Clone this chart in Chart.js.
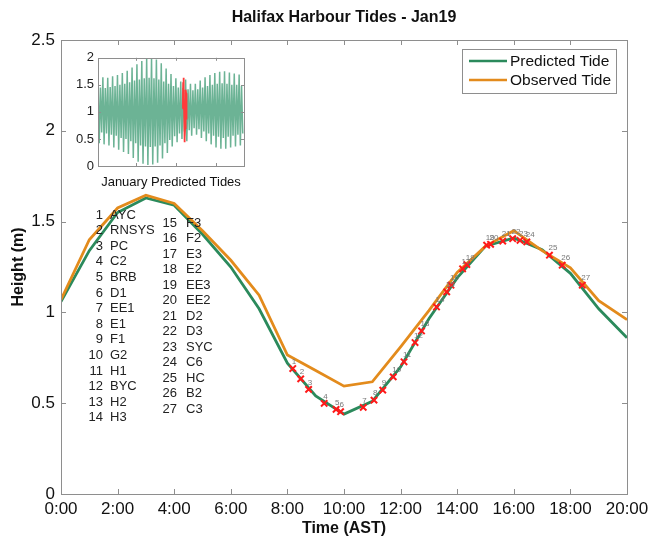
<!DOCTYPE html>
<html><head><meta charset="utf-8">
<script src="https://cdn.jsdelivr.net/npm/chart.js@4.4.1/dist/chart.umd.min.js"></script>
<style>
html,body{margin:0;padding:0;background:#fff;}
#wrap{position:relative;width:655px;height:548px;overflow:hidden;}
#main{position:absolute;left:0;top:0;}
#inset{position:absolute;left:60px;top:46px;}
</style></head><body>
<div id="wrap"><canvas id="main" width="655" height="548"></canvas><canvas id="inset" width="200" height="150"></canvas></div>
<script>
// ---------- data ----------
const hours = [0,1,2,3,4,5,6,7,8,9,10,11,12,13,14,15,16,17,18,19,20];
const predicted = [1.06,1.34,1.55,1.63,1.59,1.43,1.25,1.02,0.72,0.54,0.44,0.51,0.70,0.965,1.19,1.365,1.41,1.345,1.215,1.02,0.86];
const observed  = [1.07,1.40,1.575,1.645,1.60,1.45,1.287,1.095,0.765,0.68,0.594,0.618,0.81,1.01,1.22,1.365,1.45,1.34,1.245,1.065,0.96];
const xTickValues = [0,2,4,6,8,10,12,14,16,18,20];
const xTickLabels = ['0:00','2:00','4:00','6:00','8:00','10:00','12:00','14:00','16:00','18:00','20:00'];
const yTickValues = [0,0.5,1,1.5,2,2.5];
const yTickLabels = ['0','0.5','1','1.5','2','2.5'];
const stationNames = ['AYC','RNSYS','PC','C2','BRB','D1','EE1','E1','F1','G2','H1','BYC','H2','H3',
  'F3','F2','E3','E2','EE3','EE2','D2','D3','SYC','C6','HC','B2','C3'];
const stationTimes = [8.19,8.47,8.75,9.30,9.72,9.88,10.68,11.06,11.37,11.74,12.12,12.51,12.74,
  13.27,13.63,13.78,14.19,14.34,15.04,15.18,15.61,15.96,16.22,16.46,17.26,17.71,18.42];
const stationHeights = [0.691,0.634,0.576,0.499,0.466,0.453,0.477,0.517,0.572,0.645,0.728,0.834,0.898,
  1.03,1.113,1.15,1.24,1.263,1.37,1.375,1.393,1.406,1.397,1.388,1.315,1.26,1.15];
// inset: January predicted tide extremes (one high and one low per tidal cycle)
const insetHigh = [1.62,1.45,1.64,1.44,1.63,1.46,1.66,1.48,1.68,1.50,1.72,1.52,1.76,1.55,1.82,1.58,1.88,1.60,1.94,1.62,
  1.98,1.63,1.99,1.62,1.97,1.60,1.90,1.56,1.80,1.52,1.70,1.48,1.62,1.45,1.56,1.44,1.60,1.42,1.52,1.40,
  1.52,1.42,1.58,1.45,1.64,1.48,1.68,1.50,1.72,1.52,1.74,1.53,1.75,1.52,1.73,1.50,1.71,1.50,1.69,1.48];
const insetLow = [0.42,0.62,0.40,0.60,0.38,0.58,0.34,0.56,0.30,0.52,0.26,0.50,0.22,0.46,0.15,0.42,0.08,0.38,0.04,0.36,
  0.02,0.35,0.03,0.36,0.06,0.38,0.14,0.42,0.24,0.48,0.36,0.55,0.44,0.60,0.50,0.64,0.46,0.66,0.56,0.70,
  0.58,0.68,0.52,0.64,0.46,0.60,0.40,0.56,0.34,0.54,0.32,0.52,0.32,0.54,0.34,0.56,0.36,0.58,0.38,0.60];
const insetDays = 31;
const insetStartDay = 1;
const obsDay = 19;
const insetXTicks = [9.1,17.6,26.1];
const insetYTickValues = [0,0.5,1,1.5,2];
const insetYTickLabels = ['0','0.5','1','1.5','2'];

// ---------- styles ----------
const FONT = '"Liberation Sans", Arial, Helvetica, sans-serif';
const GREEN = '#2b8a5c';
const ORANGE = '#e38b1c';
const BOX = '#8e8e8e';

function boxAndTicks(chart, xs, ys, len){
  const ctx = chart.ctx, a = chart.chartArea;
  const sx = chart.scales.x, sy = chart.scales.y;
  ctx.save();
  ctx.strokeStyle = BOX; ctx.lineWidth = 1;
  ctx.strokeRect(Math.round(a.left)+0.5, Math.round(a.top)+0.5, Math.round(a.right-a.left), Math.round(a.bottom-a.top));
  ctx.beginPath();
  xs.forEach(v=>{
    const px = Math.round(sx.getPixelForValue(v))+0.5;
    ctx.moveTo(px,a.bottom); ctx.lineTo(px,a.bottom-len);
    ctx.moveTo(px,a.top); ctx.lineTo(px,a.top+len);
  });
  ys.forEach(v=>{
    const py = Math.round(sy.getPixelForValue(v))+0.5;
    ctx.moveTo(a.left,py); ctx.lineTo(a.left+len,py);
    ctx.moveTo(a.right,py); ctx.lineTo(a.right-len,py);
  });
  ctx.stroke();
  ctx.restore();
}

const mainDecor = {
  id:'mainDecor',
  afterDraw(chart){
    const ctx = chart.ctx, a = chart.chartArea;
    boxAndTicks(chart, xTickValues, yTickValues, 5);
    ctx.save();
    ctx.fillStyle = '#111';
    ctx.textAlign = 'center'; ctx.textBaseline = 'middle';
    ctx.font = 'bold 16px ' + FONT;
    ctx.fillText('Halifax Harbour Tides - Jan19', (a.left+a.right)/2, 18);
    ctx.fillText('Time (AST)', (a.left+a.right)/2, 529);
    ctx.save();
    ctx.translate(19, (a.top+a.bottom)/2);
    ctx.rotate(-Math.PI/2);
    ctx.fillText('Height (m)', 0, 0);
    ctx.restore();
    // station list
    ctx.font = '13px ' + FONT;
    ctx.fillStyle = '#222';
    stationNames.forEach((n,i)=>{
      let y, xn, xs;
      if(i<14){ y = 215 + i*15.6; xn = 103; xs = 110; }
      else { y = 223.3 + (i-14)*15.5; xn = 177; xs = 186; }
      ctx.textAlign = 'right'; ctx.fillText(String(i+1), xn, y);
      ctx.textAlign = 'left'; ctx.fillText(n, xs, y);
    });
    // marker number labels
    const meta = chart.getDatasetMeta(2);
    ctx.font = '8px ' + FONT;
    ctx.fillStyle = '#777';
    ctx.textAlign = 'left'; ctx.textBaseline = 'bottom';
    meta.data.forEach((pt,i)=>{
      ctx.fillText(String(i+1), pt.x-1, pt.y-3);
    });
    // legend
    const lx = 462.5, ly = 49.5, lw = 154, lh = 44;
    ctx.fillStyle = '#fff';
    ctx.fillRect(lx,ly,lw,lh);
    ctx.strokeStyle = BOX; ctx.lineWidth = 1;
    ctx.strokeRect(lx,ly,lw,lh);
    const rows = [[chart.data.datasets[0], 61],[chart.data.datasets[1], 80]];
    ctx.font = '15.5px ' + FONT; ctx.textBaseline = 'middle'; ctx.fillStyle = '#111';
    rows.forEach(([ds,y])=>{
      ctx.strokeStyle = ds.borderColor; ctx.lineWidth = 2.5;
      ctx.beginPath(); ctx.moveTo(469,y); ctx.lineTo(507,y); ctx.stroke();
      ctx.fillText(ds.label, 510, y+1);
    });
    ctx.restore();
  }
};

new Chart(document.getElementById('main'), {
  type:'line',
  data:{
    datasets:[
      {label:'Predicted Tide', data:hours.map((h,i)=>({x:h,y:predicted[i]})), borderColor:GREEN, borderWidth:2.8, pointRadius:0, tension:0, order:2},
      {label:'Observed Tide', data:hours.map((h,i)=>({x:h,y:observed[i]})), borderColor:ORANGE, borderWidth:2.8, pointRadius:0, tension:0, order:1},
      {label:'Stations', data:stationTimes.map((t,i)=>({x:t,y:stationHeights[i]})), showLine:false, pointStyle:'crossRot',
       pointRadius:4.5, pointBorderWidth:2, borderColor:'#ff1a1a', backgroundColor:'#ff1a1a', order:0}
    ]
  },
  options:{
    responsive:false, animation:false, devicePixelRatio:1,
    layout:{padding:{left:0,right:28,top:40,bottom:0}},
    plugins:{legend:{display:false}, title:{display:false}, tooltip:{enabled:false}},
    scales:{
      x:{type:'linear', min:0, max:20,
        afterBuildTicks:s=>{ s.ticks = xTickValues.map(v=>({value:v})); },
        ticks:{callback:(v)=>xTickLabels[xTickValues.indexOf(v)], font:{size:17,family:FONT}, color:'#111', padding:5, maxRotation:0, autoSkip:false},
        grid:{display:false, drawTicks:false}, border:{display:false},
        afterFit:s=>{ s.height = 54; }
      },
      y:{min:0, max:2.5,
        afterBuildTicks:s=>{ s.ticks = yTickValues.map(v=>({value:v})); },
        ticks:{callback:(v)=>yTickLabels[yTickValues.indexOf(v)], font:{size:17,family:FONT}, color:'#111', padding:6},
        grid:{display:false, drawTicks:false}, border:{display:false},
        afterFit:s=>{ s.width = 61; }
      }
    }
  },
  plugins:[mainDecor]
});

// ---------- inset ----------
const insetPts = [];
insetHigh.forEach((h,i)=>{
  const step = insetDays/insetHigh.length;
  insetPts.push({x:insetStartDay + i*step, y:h});
  insetPts.push({x:insetStartDay + (i+0.5)*step, y:insetLow[i]});
});
const insetDecor = {
  id:'insetDecor',
  afterDraw(chart){
    boxAndTicks(chart, insetXTicks, insetYTickValues, 3);
    const ctx = chart.ctx, a = chart.chartArea;
    ctx.save();
    ctx.font = '13px ' + FONT; ctx.fillStyle = '#111';
    ctx.textAlign = 'center'; ctx.textBaseline = 'middle';
    ctx.fillText('January Predicted Tides', (a.left+a.right)/2, 136);
    ctx.restore();
  }
};
new Chart(document.getElementById('inset'), {
  type:'line',
  data:{datasets:[
    {data:insetPts, borderColor:'#6cb395', borderWidth:1.5, pointRadius:0, tension:0, order:1},
    {data:hours.map((h,i)=>({x:obsDay + h/24, y:predicted[i]})), borderColor:'#ff3b3b', borderWidth:1.8, pointRadius:0, tension:0, order:0}
  ]},
  options:{
    responsive:false, animation:false, devicePixelRatio:1,
    layout:{padding:{left:0,right:16,top:8,bottom:0}},
    plugins:{legend:{display:false}, tooltip:{enabled:false}},
    scales:{
      x:{type:'linear', min:insetStartDay, max:insetStartDay+insetDays,
        ticks:{display:false}, grid:{display:false, drawTicks:false}, border:{display:false},
        afterFit:s=>{ s.height = 30; }
      },
      y:{min:0, max:2,
        afterBuildTicks:s=>{ s.ticks = insetYTickValues.map(v=>({value:v})); },
        ticks:{callback:(v)=>insetYTickLabels[insetYTickValues.indexOf(v)], font:{size:13,family:FONT}, color:'#222', padding:4},
        grid:{display:false, drawTicks:false}, border:{display:false},
        afterFit:s=>{ s.width = 38; }
      }
    }
  },
  plugins:[insetDecor]
});
</script>
</body></html>
